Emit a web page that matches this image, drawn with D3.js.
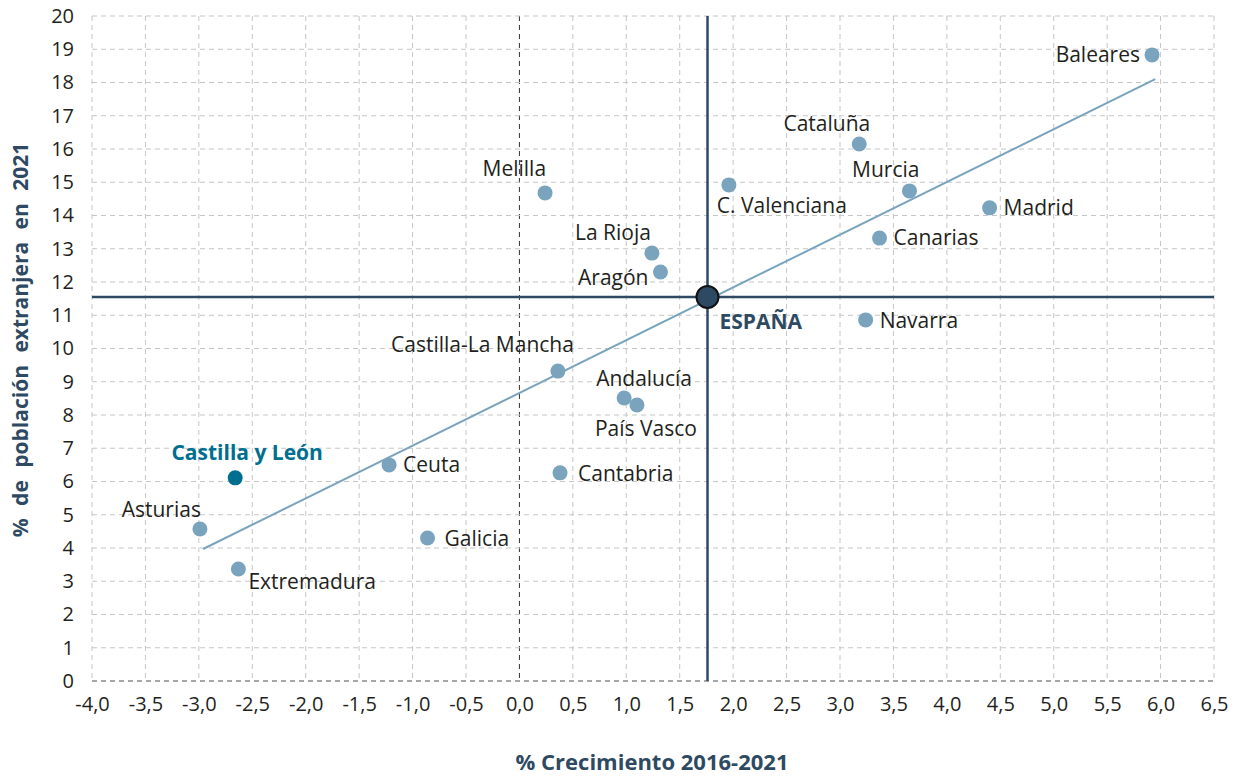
<!DOCTYPE html>
<html>
<head>
<meta charset="utf-8">
<script src="https://cdn.jsdelivr.net/npm/d3@7"></script>
<style>
  body { margin: 0; background: #fff; }
  svg text { font-family: "Open Sans", sans-serif; fill: #231f20; }
</style>
</head>
<body>
<svg id="chart" width="1238" height="776"></svg>
<script>
// datos
var regions = ["Baleares", "Cataluña", "Murcia", "Madrid", "Canarias", "C. Valenciana",
  "Melilla", "La Rioja", "Aragón", "Navarra", "Castilla-La Mancha", "Andalucía",
  "País Vasco", "Castilla y León", "Ceuta", "Cantabria", "Asturias", "Galicia", "Extremadura"];
var growth = [5.92, 3.18, 3.65, 4.40, 3.37, 1.96, 0.24, 1.24, 1.32, 3.24, 0.36, 0.98,
  1.10, -2.66, -1.22, 0.38, -2.99, -0.86, -2.63];
var foreignPct = [18.83, 16.15, 14.74, 14.23, 13.32, 14.92, 14.68, 12.87, 12.30, 10.86, 9.32, 8.51,
  8.30, 6.11, 6.50, 6.26, 4.57, 4.30, 3.37];
var spain = { name: "ESPAÑA", x: 1.76, y: 11.55 };
var trendX = [-2.96, 5.95];
var trendY = [3.97, 18.1];
var xTicks = d3.range(-4, 6.51, 0.5);
var yTicks = d3.range(0, 21, 1);

// colocación de etiquetas (posición relativa al punto)
var labelPos = {
  "Baleares": [-12, 7, "end"],
  "Cataluña": [11, -13, "end"],
  "Murcia": [10, -14, "end"],
  "Madrid": [14, 7, "start"],
  "Canarias": [14, 7, "start"],
  "C. Valenciana": [-12, 28, "start"],
  "Melilla": [1, -17, "end"],
  "La Rioja": [-1, -13, "end"],
  "Aragón": [-12, 13, "end"],
  "Navarra": [14, 8, "start"],
  "Castilla-La Mancha": [16, -19, "end"],
  "Andalucía": [-28, -12, "start"],
  "País Vasco": [-42, 31, "start"],
  "Castilla y León": [12, -18, "middle"],
  "Ceuta": [14, 7, "start"],
  "Cantabria": [18, 8, "start"],
  "Asturias": [1, -12, "end"],
  "Galicia": [17, 8, "start"],
  "Extremadura": [10, 20, "start"]
};

var svg = d3.select("#chart");
var x = d3.scaleLinear().domain([-4, 6.5]).range([92, 1214]);
var y = d3.scaleLinear().domain([0, 20]).range([681, 16]);
var fmt = function(v) { return d3.format(".1f")(v).replace(".", ",").replace("−", "-"); };

// rejilla
svg.append("g").selectAll("line").data(xTicks).join("line")
  .attr("x1", d => x(d)).attr("x2", d => x(d))
  .attr("y1", y(20)).attr("y2", y(0))
  .attr("stroke", d => d === 0 ? "#333" : "#c6c6c6")
  .attr("stroke-width", 1)
  .attr("stroke-dasharray", "5,4");
svg.append("g").selectAll("line").data(yTicks).join("line")
  .attr("x1", x(-4)).attr("x2", x(6.5))
  .attr("y1", d => y(d)).attr("y2", d => y(d))
  .attr("stroke", d => d === 0 ? "#8a8a8a" : "#c6c6c6")
  .attr("stroke-width", d => d === 0 ? 1.5 : 1)
  .attr("stroke-dasharray", "5,4");

// ejes
var xAxis = svg.append("g").attr("transform", `translate(0, ${y(0)})`)
  .call(d3.axisBottom(x).tickValues(xTicks).tickFormat(fmt).tickSize(0).tickPadding(16));
var yAxis = svg.append("g").attr("transform", `translate(${x(-4)}, 0)`)
  .call(d3.axisLeft(y).tickValues(yTicks).tickSize(0).tickPadding(18));
[xAxis, yAxis].forEach(function(a) {
  a.select(".domain").remove();
  a.selectAll("text").style("font-size", "20px").attr("fill", "#231f20");
});

// líneas de España
svg.append("line")
  .attr("x1", x(-4)).attr("x2", x(6.5))
  .attr("y1", y(spain.y)).attr("y2", y(spain.y))
  .attr("stroke", "#2e4a62").attr("stroke-width", 2.5);
svg.append("line")
  .attr("x1", x(spain.x)).attr("x2", x(spain.x))
  .attr("y1", y(20)).attr("y2", y(0))
  .attr("stroke", "#2e4a62").attr("stroke-width", 2.5);

// tendencia
svg.append("path")
  .datum(d3.zip(trendX, trendY))
  .attr("fill", "none")
  .attr("stroke", "#7aa3bd")
  .attr("stroke-width", 2)
  .attr("d", d3.line().x(d => x(d[0])).y(d => y(d[1])));

// puntos
var pts = regions.map((r, i) => ({ name: r, x: growth[i], y: foreignPct[i] }));
svg.append("g").selectAll("circle").data(pts).join("circle")
  .attr("cx", d => x(d.x)).attr("cy", d => y(d.y)).attr("r", 7.5)
  .attr("fill", d => d.name === "Castilla y León" ? "#006f8f" : "#7aa3bd");

svg.append("g").selectAll("text").data(pts).join("text")
  .attr("x", d => x(d.x) + labelPos[d.name][0])
  .attr("y", d => y(d.y) + labelPos[d.name][1])
  .attr("text-anchor", d => labelPos[d.name][2])
  .style("font-size", "21px")
  .style("font-weight", d => d.name === "Castilla y León" ? "bold" : "normal")
  .style("fill", d => d.name === "Castilla y León" ? "#006f8f" : "#231f20")
  .text(d => d.name);

svg.append("circle")
  .attr("cx", x(spain.x)).attr("cy", y(spain.y)).attr("r", 11)
  .attr("fill", "#2e4a62").attr("stroke", "#111").attr("stroke-width", 2);
svg.append("text")
  .attr("x", x(spain.x) + 12).attr("y", y(spain.y) + 32)
  .style("font-size", "21px").style("font-weight", "bold").style("fill", "#2e4a62")
  .text(spain.name);

// títulos de ejes
svg.append("text")
  .attr("x", 652).attr("y", 770).attr("text-anchor", "middle")
  .style("font-size", "22px").style("font-weight", "bold").style("fill", "#2e4a62")
  .text("% Crecimiento 2016-2021");
svg.append("text")
  .attr("transform", "translate(28, 340) rotate(-90)").attr("text-anchor", "middle")
  .style("font-size", "21px").style("font-weight", "bold").style("fill", "#2e4a62")
  .style("word-spacing", "7px")
  .text("% de población extranjera en 2021");
</script>
</body>
</html>
